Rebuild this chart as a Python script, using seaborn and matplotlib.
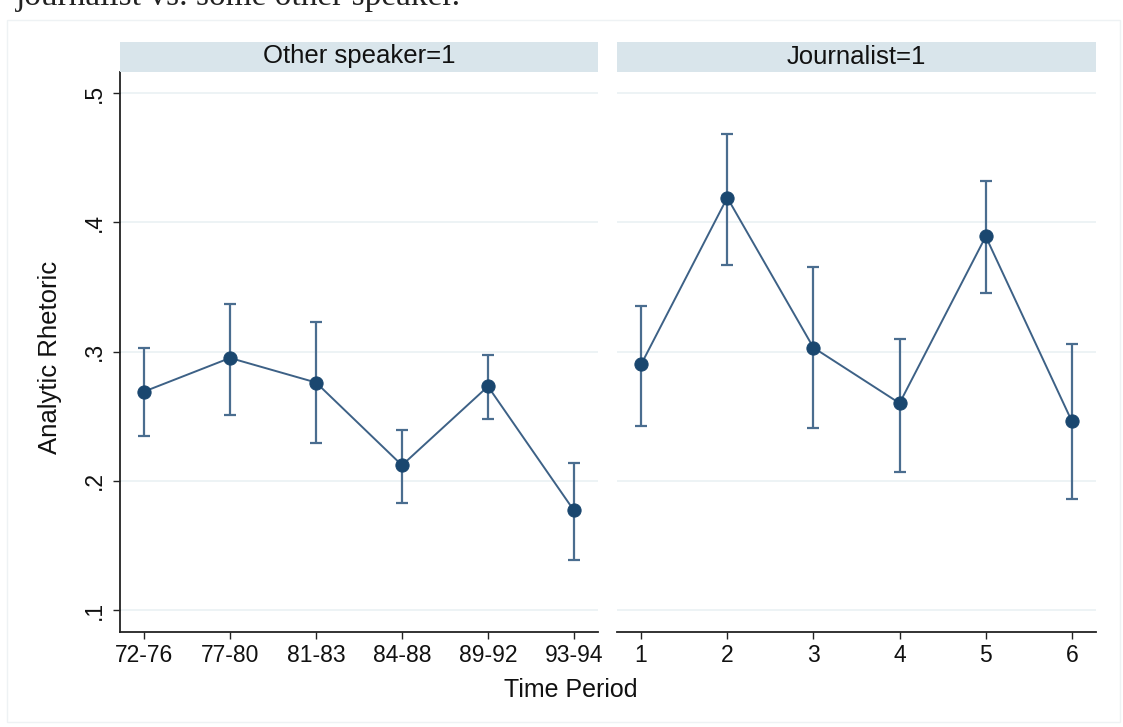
import numpy as np
import pandas as pd
import matplotlib
matplotlib.use("Agg")
import matplotlib.pyplot as plt
import seaborn as sns
from matplotlib.patches import Rectangle

# ---- data ----
other_labels = ["72-76", "77-80", "81-83", "84-88", "89-92", "93-94"]
other_mean = [0.269, 0.295, 0.276, 0.212, 0.273, 0.177]
other_lo = [0.235, 0.251, 0.229, 0.183, 0.248, 0.139]
other_hi = [0.303, 0.337, 0.323, 0.239, 0.297, 0.214]

journ_labels = ["1", "2", "3", "4", "5", "6"]
journ_mean = [0.290, 0.419, 0.303, 0.260, 0.389, 0.246]
journ_lo = [0.242, 0.367, 0.241, 0.207, 0.345, 0.186]
journ_hi = [0.335, 0.468, 0.365, 0.310, 0.432, 0.306]

panel_titles = ["Other speaker=1", "Journalist=1"]
y_ticks = [0.1, 0.2, 0.3, 0.4, 0.5]
y_ticklabels = [".1", ".2", ".3", ".4", ".5"]

sns.set_style("white")
plt.rcParams["font.family"] = ["Liberation Sans", "DejaVu Sans"]

W, H = 1123, 727
fig = plt.figure(figsize=(W / 100, H / 100), dpi=100)

def fx(px):
    return px / W

def fy(py):
    return 1 - py / H

marker_c = "#1a476f"
line_c = "#3d6186"
grid_c = "#eaf1f3"
strip_c = "#d9e5eb"

# faint outer frame
fig.patches.append(Rectangle((fx(7), fy(722)), fx(1120) - fx(7), fy(20) - fy(722),
                             transform=fig.transFigure, fill=False,
                             edgecolor="#eef2f4", linewidth=1.0))

# cropped caption at top (cut off in the source image)
fig.text(fx(16), fy(5), "journalist vs. some other speaker.",
         family=["Liberation Serif", "DejaVu Serif"],
         fontsize=24, ha="left", va="baseline", color="#222222")

panels = [
    (120, 598, other_labels, other_mean, other_lo, other_hi),
    (617, 1096, journ_labels, journ_mean, journ_lo, journ_hi),
]
top_px, bot_px = 72, 632

for i, (x0, x1, labels, mean, lo, hi) in enumerate(panels):
    ax = fig.add_axes([fx(x0), fy(bot_px), fx(x1) - fx(x0), fy(top_px) - fy(bot_px)])
    df = pd.DataFrame({"pos": np.arange(len(labels)), "mean": mean,
                       "lo": lo, "hi": hi})
    for yv in y_ticks:
        ax.axhline(yv, color=grid_c, linewidth=1.2, zorder=0)
    ax.errorbar(df["pos"], df["mean"],
                yerr=[df["mean"] - df["lo"], df["hi"] - df["mean"]],
                fmt="none", ecolor="#4a6d8f", elinewidth=1.6, capsize=4.5,
                capthick=1.6, zorder=2)
    sns.lineplot(data=df, x="pos", y="mean", ax=ax, color=line_c, linewidth=1.4,
                 marker="o", markersize=9.5, markerfacecolor=marker_c,
                 markeredgecolor=marker_c, zorder=3)
    ax.set_xlim(-0.28, 5.28)
    ax.set_ylim(0.1 - 22 / 1292.5, 0.5 + 21 / 1292.5)
    ax.set_xticks(df["pos"])
    ax.set_xticklabels(labels, fontsize=16.5)
    ax.set_xlabel("")
    ax.set_ylabel("")
    ax.tick_params(axis="x", length=5, width=1, color="#222222", pad=4,
                   labelcolor="#111111", bottom=True)
    for s in ["top", "right"]:
        ax.spines[s].set_visible(False)
    ax.spines["bottom"].set_color("#222222")
    ax.spines["bottom"].set_linewidth(1.3)
    if i == 0:
        ax.set_yticks(y_ticks)
        ax.set_yticklabels(y_ticklabels, rotation=90, fontsize=16.5, va="center")
        ax.tick_params(axis="y", length=5, width=1, color="#222222", pad=5,
                       labelcolor="#111111", left=True)
        ax.spines["left"].set_color("#222222")
        ax.spines["left"].set_linewidth(1.3)
    else:
        ax.set_yticks(y_ticks)
        ax.set_yticklabels([])
        ax.tick_params(axis="y", length=0)
        ax.spines["left"].set_visible(False)
    ax.patch.set_alpha(0)

    # strip header
    fig.patches.append(Rectangle((fx(x0), fy(72)), fx(x1) - fx(x0), fy(42) - fy(72),
                                 transform=fig.transFigure, facecolor=strip_c,
                                 edgecolor="none"))
    fig.text((fx(x0) + fx(x1)) / 2, fy(56.5), panel_titles[i], ha="center",
             va="center", fontsize=18.5, color="#111111")

fig.text(fx(50), fy(357), "Analytic Rhetoric", rotation=90, ha="center", va="center",
         fontsize=18.5, color="#111111")
fig.text(fx(571), fy(690), "Time Period", ha="center", va="center",
         fontsize=18, color="#111111")

fig.savefig("out.png", dpi=100, facecolor="white")
